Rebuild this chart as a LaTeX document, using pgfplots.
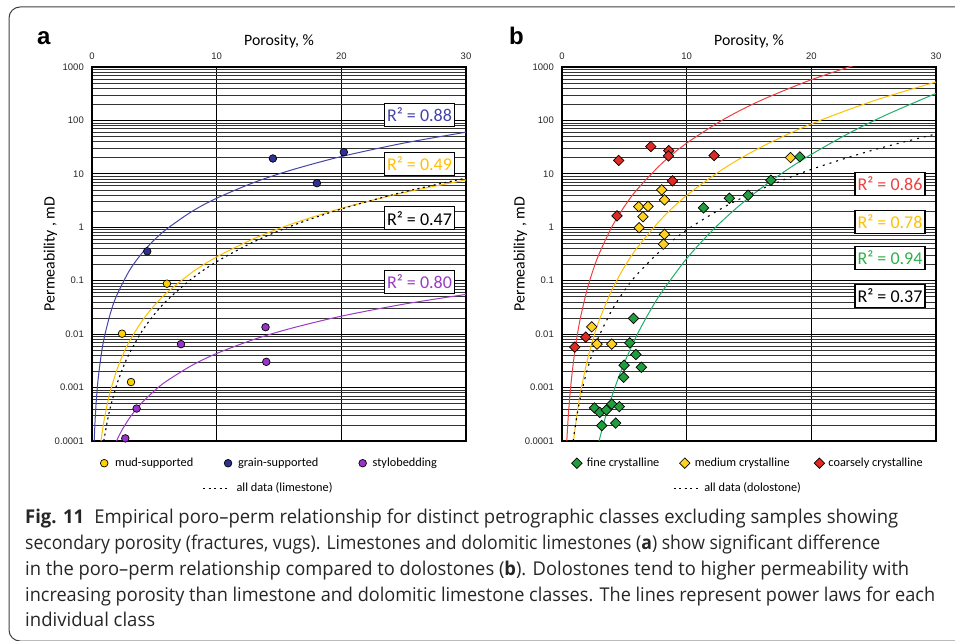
\documentclass[border=0pt]{standalone}
\usepackage{pgfplots}
\pgfplotsset{compat=1.18}
\usepackage{fontspec}
\usepackage{graphicx}
\setmainfont{Carlito}
\newfontfamily\tickfont{Liberation Sans}
\newfontfamily\capfont{Open Sans}
\newfontfamily\panelfont{Liberation Sans}

% class colours
\definecolor{mudc}{HTML}{FFD200}
\definecolor{mudline}{HTML}{FFC000}
\definecolor{grainc}{HTML}{2E3192}
\definecolor{grainline}{HTML}{4444AA}
\definecolor{styloc}{HTML}{9933CC}
\definecolor{styloline}{HTML}{9B3BC6}
\definecolor{finec}{HTML}{1E9E3C}
\definecolor{fineline}{HTML}{1FAE6A}
\definecolor{finetext}{HTML}{2DB34A}
\definecolor{medc}{HTML}{FFD21F}
\definecolor{coarsec}{HTML}{DD2C25}
\definecolor{coarseline}{HTML}{EE4040}

% one caption line, stretched horizontally to a given width
\newcommand\capline[2]{\resizebox{#1pt}{16.8pt}{\strut #2}}
% fixed horizontal space that survives at the end of a legend text
\newcommand\gap[1]{\rule{#1}{0pt}}

\begin{document}
\begin{tikzpicture}[x=1pt,y=1pt]
\path[use as bounding box] (0,0) rectangle (955,640);
\clip (0,0) rectangle (955,640);

% frame of the figure
\draw[black!75, line width=1pt, rounded corners=11pt] (1000,-1) -- (9,-1) -- (9,633) -- (1000,633);

% ---------------- panel a: limestones ----------------
\begin{axis}[at={(92pt,199pt)}, anchor=south west,
    scale only axis, width=374pt, height=374pt,
    xmin=0, xmax=30, ymode=log, ymin=1e-4, ymax=1000,
    xtick={0,10,20,30}, xticklabels={0,10,20,30},
    xticklabel pos=upper,
    ytick={1e-4,1e-3,1e-2,1e-1,1,10,100,1000},
    yticklabels={0.0001,0.001,0.01,0.1,1,10,100,1000},
    minor ytick={2e-4,3e-4,4e-4,5e-4,6e-4,7e-4,8e-4,9e-4,
                 2e-3,3e-3,4e-3,5e-3,6e-3,7e-3,8e-3,9e-3,
                 0.02,0.03,0.04,0.05,0.06,0.07,0.08,0.09,
                 0.2,0.3,0.4,0.5,0.6,0.7,0.8,0.9,
                 2,3,4,5,6,7,8,9,
                 20,30,40,50,60,70,80,90,
                 200,300,400,500,600,700,800,900},
    major tick length=0pt, minor tick length=0pt,
    xmajorgrids, ymajorgrids, yminorgrids,
    major grid style={black, line width=0.8pt},
    minor grid style={black!80, line width=0.6pt},
    axis line style={black, line width=1.6pt},
    tick label style={font=\tickfont\fontsize{9.5}{11}\selectfont, text=black!85},
    xticklabel style={anchor=base, yshift=7pt, inner sep=0pt},
    yticklabel style={anchor=east, xshift=-8pt, inner sep=0pt},
    xlabel={Porosity, \%},
    ylabel={Permeability , mD},
    label style={font=\fontsize{15.8}{18}\selectfont},
    xlabel style={at={(axis description cs:0.5,1)}, anchor=base, yshift=21.3pt},
    ylabel style={at={(axis description cs:-0.111,0.5)}, anchor=center},
    legend columns=3,
    legend cell align=left,
    legend image code/.code={\draw[mark repeat=2, mark phase=2, #1, overlay] plot coordinates {(-25pt,0pt) (0pt,0pt) (1pt,0pt)};},
    legend style={draw=none, fill=none, inner sep=0pt, column sep=0pt,
      at={(axis description cs:0.0321,-0.0428)}, anchor=north west,
      font=\fontsize{12.3}{14}\selectfont, row sep=13pt,
      nodes={inner sep=0pt, text height=9pt, text depth=3pt}}]
% power-law fits
\addplot[grainline, line width=1pt, smooth, forget plot] coordinates {(0.176,0.0001) (0.25,2.48e-4) (0.35,5.93e-4) (0.5,1.50e-3) (0.75,4.27e-3) (1,0.009) (1.5,0.0257) (2,0.0542) (3,0.155) (4,0.326) (5,0.582) (6,0.932) (8,1.97) (10,3.50) (13,6.91) (16,11.8) (20,21.1) (25,37.6) (30,60.2)};
\addplot[mudline, line width=1pt, smooth, forget plot] coordinates {(0.723,0.0001) (0.8,1.36e-4) (0.9,1.94e-4) (1,2.66e-4) (1.25,5.22e-4) (1.5,9.05e-4) (2,2.16e-3) (2.5,4.23e-3) (3,7.34e-3) (4,0.0175) (5,0.0344) (6,0.0596) (8,0.142) (10,0.279) (13,0.615) (16,1.15) (20,2.26) (25,4.44) (30,7.69)};
\addplot[styloline, line width=1pt, smooth, forget plot] coordinates {(1.965,0.0001) (2.2,1.30e-4) (2.5,1.75e-4) (3,2.67e-4) (3.5,3.81e-4) (4,5.19e-4) (5,8.71e-4) (6,1.33e-3) (8,2.59e-3) (10,4.35e-3) (13,7.98e-3) (16,0.0129) (20,0.0217) (25,0.0364) (30,0.0555)};
\addplot[black, line width=1.1pt, dash pattern=on 2pt off 3.5pt, smooth, forget plot] coordinates {(0.948,0.0001) (1,1.19e-4) (1.25,2.48e-4) (1.5,4.51e-4) (2,1.16e-3) (2.5,2.40e-3) (3,4.38e-3) (4,0.01124) (5,0.0234) (6,0.0425) (8,0.109) (10,0.227) (13,0.537) (16,1.06) (20,2.20) (25,4.58) (30,8.34)};
% samples
\addplot[only marks, mark=*, mark size=3.8pt, mark options={draw=black, line width=0.7pt, fill=mudc}, forget plot] coordinates {(2.41,0.0102) (3.13,0.00127) (6.01,0.088)};
\addplot[only marks, mark=*, mark size=3.8pt, mark options={draw=black, line width=0.7pt, fill=grainc}, forget plot] coordinates {(4.43,0.355) (14.51,19.4) (18.04,6.7) (20.2,25.5)};
\addplot[only marks, mark=*, mark size=3.8pt, mark options={draw=black, line width=0.7pt, fill=styloc}, forget plot] coordinates {(2.67,0.000112) (3.58,0.000405) (7.14,0.0065) (13.92,0.0135) (13.98,0.00303)};
% legend
\addlegendimage{only marks, mark=*, mark size=3.8pt, mark options={draw=black, line width=0.7pt, fill=mudc}}\addlegendentry{\gap{11pt}mud-supported\gap{34.8pt}}
\addlegendimage{only marks, mark=*, mark size=3.8pt, mark options={draw=black, line width=0.7pt, fill=grainc}}\addlegendentry{\gap{10pt}grain-supported\gap{44.3pt}}
\addlegendimage{only marks, mark=*, mark size=3.8pt, mark options={draw=black, line width=0.7pt, fill=styloc}}\addlegendentry{\gap{10pt}stylobedding}
\addlegendimage{empty legend}\addlegendentry{}
\addlegendimage{black, line width=1.1pt, dash pattern=on 2pt off 3.5pt}\addlegendentry{\makebox[0pt][l]{\gap{8pt}all data (limestone)}}
\addlegendimage{empty legend}\addlegendentry{}
\end{axis}

% ---------------- panel b: dolostones ----------------
\begin{axis}[at={(562pt,199pt)}, anchor=south west,
    scale only axis, width=374pt, height=374pt,
    xmin=0, xmax=30, ymode=log, ymin=1e-4, ymax=1000,
    xtick={0,10,20,30}, xticklabels={0,10,20,30},
    xticklabel pos=upper,
    ytick={1e-4,1e-3,1e-2,1e-1,1,10,100,1000},
    yticklabels={0.0001,0.001,0.01,0.1,1,10,100,1000},
    minor ytick={2e-4,3e-4,4e-4,5e-4,6e-4,7e-4,8e-4,9e-4,
                 2e-3,3e-3,4e-3,5e-3,6e-3,7e-3,8e-3,9e-3,
                 0.02,0.03,0.04,0.05,0.06,0.07,0.08,0.09,
                 0.2,0.3,0.4,0.5,0.6,0.7,0.8,0.9,
                 2,3,4,5,6,7,8,9,
                 20,30,40,50,60,70,80,90,
                 200,300,400,500,600,700,800,900},
    major tick length=0pt, minor tick length=0pt,
    xmajorgrids, ymajorgrids, yminorgrids,
    major grid style={black, line width=0.8pt},
    minor grid style={black!80, line width=0.6pt},
    axis line style={black, line width=1.6pt},
    tick label style={font=\tickfont\fontsize{9.5}{11}\selectfont, text=black!85},
    xticklabel style={anchor=base, yshift=7pt, inner sep=0pt},
    yticklabel style={anchor=east, xshift=-8pt, inner sep=0pt},
    xlabel={Porosity, \%},
    ylabel={Permeability , mD},
    label style={font=\fontsize{15.8}{18}\selectfont},
    xlabel style={at={(axis description cs:0.5,1)}, anchor=base, yshift=21.3pt},
    ylabel style={at={(axis description cs:-0.111,0.5)}, anchor=center},
    legend columns=3,
    legend cell align=left,
    legend image code/.code={\draw[mark repeat=2, mark phase=2, #1, overlay] plot coordinates {(-11pt,0pt) (0pt,0pt) (14pt,0pt)};},
    legend style={draw=none, fill=none, inner sep=0pt, column sep=0pt,
      at={(axis description cs:0.0393,-0.0428)}, anchor=north west,
      font=\fontsize{12.3}{14}\selectfont, row sep=13pt,
      nodes={inner sep=0pt, text height=9pt, text depth=3pt}}]
% power-law fits
\addplot[coarseline, line width=1pt, smooth, forget plot] coordinates {(0.385,0.0001) (0.45,1.86e-4) (0.5,2.81e-4) (0.6,5.77e-4) (0.75,1.39e-3) (1,4.32e-3) (1.25,0.0104) (1.5,0.0213) (2,0.0663) (2.5,0.160) (3,0.328) (4,1.02) (5,2.45) (6,5.02) (8,15.6) (10,37.6) (13,105.8) (16,239.7) (20,577.5) (24,1184)};
\addplot[mudline, line width=1pt, smooth, forget plot] coordinates {(0.927,0.0001) (1,1.40e-4) (1.25,3.78e-4) (1.5,8.50e-4) (2,3.06e-3) (2.5,8.25e-3) (3,0.0186) (4,0.0668) (5,0.1805) (6,0.4055) (8,1.459) (10,3.945) (13,12.68) (16,31.9) (20,86.1) (25,232.8) (30,523.6)};
\addplot[fineline, line width=1pt, smooth, forget plot] coordinates {(2.972,0.0001) (3.2,1.61e-4) (3.5,2.89e-4) (4,6.85e-4) (4.5,1.47e-3) (5,2.91e-3) (6,9.48e-3) (7,0.0257) (8,0.0612) (10,0.2597) (12,0.846) (14,2.299) (16,5.458) (18,11.71) (20,23.17) (23,57.33) (26,126.9) (30,321)};
\addplot[black, line width=1.1pt, dash pattern=on 2pt off 5pt, smooth, forget plot] coordinates {(0.896,0.0001) (1,1.51e-4) (1.25,3.50e-4) (1.5,6.97e-4) (2,2.06e-3) (2.5,4.78e-3) (3,9.50e-3) (4,0.0281) (5,0.0652) (6,0.1294) (8,0.383) (10,0.889) (13,2.39) (16,5.22) (20,12.13) (25,28.1) (30,55.8)};
% samples
\addplot[only marks, mark=square*, mark size=3.7pt, mark options={rotate=45, draw=black, line width=0.7pt, fill=coarsec}, forget plot] coordinates {(4.55,17.8) (7.12,32.5) (8.56,27.3) (8.54,21.7) (12.2,22) (8.86,7.4) (4.41,1.63) (1.90,0.0088) (1.02,0.0057)};
\addplot[only marks, mark=square*, mark size=3.7pt, mark options={rotate=45, draw=black, line width=0.7pt, fill=medc}, forget plot] coordinates {(8.0,5.0) (8.22,3.25) (6.16,2.44) (6.9,2.46) (6.49,1.58) (6.18,0.98) (8.22,0.74) (8.14,0.486) (18.33,20.2) (2.38,0.0137) (2.81,0.0065) (3.99,0.0065)};
\addplot[only marks, mark=square*, mark size=3.7pt, mark options={rotate=45, draw=black, line width=0.7pt, fill=finec}, forget plot] coordinates {(19.08,20.8) (16.75,7.6) (14.93,3.98) (13.43,3.5) (11.35,2.3) (5.73,0.0197) (5.43,0.00688) (5.92,0.00416) (4.98,0.00262) (6.37,0.0024) (4.95,0.00156) (2.6,0.000416) (3.03,0.000344) (3.56,0.00038) (3.99,0.000488) (4.6,0.00044) (4.31,0.000217) (3.19,0.000194)};
% legend
\addlegendimage{only marks, mark=square*, mark size=3.7pt, mark options={rotate=45, draw=black, line width=0.7pt, fill=finec}}\addlegendentry{\gap{10pt}fine crystalline\gap{25.4pt}}
\addlegendimage{only marks, mark=square*, mark size=3.7pt, mark options={rotate=45, draw=black, line width=0.7pt, fill=medc}}\addlegendentry{\gap{10pt}medium crystalline\gap{29.8pt}}
\addlegendimage{only marks, mark=square*, mark size=3.7pt, mark options={rotate=45, draw=black, line width=0.7pt, fill=coarsec}}\addlegendentry{\gap{9pt}coarsely crystalline}
\addlegendimage{empty legend}\addlegendentry{}
\addlegendimage{black, line width=1.1pt, dash pattern=on 2pt off 3.5pt}\addlegendentry{\makebox[0pt][l]{\gap{19pt}all data (dolostone)}}
\addlegendimage{empty legend}\addlegendentry{}
\end{axis}

% coefficient of determination of each fit
\tikzset{rbox/.style={draw=black, line width=1.1pt, fill=white, inner sep=0pt,
  minimum width=70pt, minimum height=23pt, font=\fontsize{18}{20}\selectfont}}
\node[rbox, text=grainline] at (419.5,525) {R² = 0.88};
\node[rbox, text=mudline] at (419.5,476.3) {R² = 0.49};
\node[rbox, text=black] at (419.5,421.7) {R² = 0.47};
\node[rbox, text=styloline] at (419.5,358.3) {R² = 0.80};
\node[rbox, text=coarseline] at (890,456) {R² = 0.86};
\node[rbox, text=mudline] at (890,418.3) {R² = 0.78};
\node[rbox, text=finetext] at (890,382.3) {R² = 0.94};
\node[rbox, text=black] at (890,344.3) {R² = 0.37};

% panel letters
\node[anchor=base west, inner sep=0pt, font=\panelfont\bfseries\fontsize{24}{28}\selectfont] at (37,595) {a};
\node[anchor=base west, inner sep=0pt, font=\panelfont\bfseries\fontsize{24}{28}\selectfont] at (509,595) {b};

% caption
\begin{scope}[every node/.style={anchor=base west, inner sep=0pt, font=\capfont\fontsize{19}{24}\selectfont, text=black!85}]
\node at (25,116.5) {\capline{873}{\textbf{Fig. 11}\hspace{0.55em}Empirical poro–perm relationship for distinct petrographic classes excluding samples showing}};
\node at (25,90.5) {\capline{855}{secondary porosity (fractures, vugs). Limestones and dolomitic limestones (\textbf{a}) show significant difference}};
\node at (25,64.5) {\capline{884}{in the poro–perm relationship compared to dolostones (\textbf{b}). Dolostones tend to higher permeability with}};
\node at (25,38.5) {\capline{910}{increasing porosity than limestone and dolomitic limestone classes. The lines represent power laws for each}};
\node at (25,13.5) {\capline{130}{individual class}};
\end{scope}
\end{tikzpicture}
\end{document}
